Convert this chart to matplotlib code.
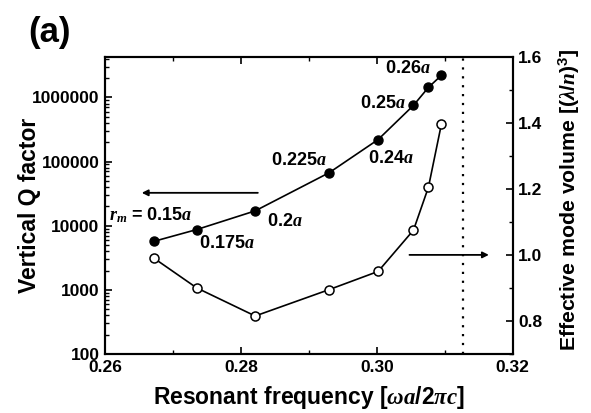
import matplotlib
matplotlib.use('Agg')
import matplotlib.pyplot as plt
from matplotlib.ticker import FixedLocator, FuncFormatter, LogLocator, MultipleLocator, NullFormatter

plt.rcParams['font.family'] = ['Liberation Sans', 'DejaVu Sans']
plt.rcParams['font.weight'] = 'bold'
plt.rcParams['axes.labelweight'] = 'bold'
plt.rcParams['mathtext.fontset'] = 'custom'
plt.rcParams['mathtext.rm'] = 'Liberation Sans:bold'
plt.rcParams['mathtext.it'] = 'Liberation Serif:italic:bold'
plt.rcParams['mathtext.bf'] = 'Liberation Sans:bold'

# resonant frequency of each hole radius r_m  [wa/2pic]
freq = [0.2672, 0.2735, 0.2821, 0.2930, 0.3002, 0.3054, 0.3076, 0.3095]
# vertical Q factor (filled) and effective mode volume (open)
q_vertical = [5700, 8700, 17000, 67000, 220000, 750000, 1430000, 2200000]
mode_volume = [0.99, 0.90, 0.815, 0.895, 0.95, 1.075, 1.205, 1.395]
rm_labels = ['$r_m$ = 0.15$a$', '0.175$a$', '0.2$a$', '0.225$a$',
             '0.24$a$', '0.25$a$', '', '0.26$a$']
light_line = 0.3127

fig = plt.figure(figsize=(5.91, 4.13), dpi=100)
ax = fig.add_axes([0.1777, 0.1429, 0.6898, 0.7198])
ax2 = ax.twinx()

ax.plot(freq, q_vertical, '-', color='black', lw=1.2,
        marker='o', ms=6.5, mfc='black', mec='black', zorder=3)
ax2.plot(freq, mode_volume, '-', color='black', lw=1.2,
         marker='o', ms=6.5, mfc='white', mec='black', mew=1.1, zorder=3)
ax2.axvline(light_line, color='black', ls=(0, (1, 3)), lw=1.6)

ax.set_xlim(0.26, 0.32)
ax.set_yscale('log')
ax.set_ylim(100, 4.3e6)
ax2.set_ylim(0.7, 1.6)

ax.xaxis.set_major_locator(FixedLocator([0.26, 0.28, 0.30, 0.32]))
ax.xaxis.set_minor_locator(MultipleLocator(0.01))
ax.xaxis.set_major_formatter(FuncFormatter(lambda v, p: '%.2f' % v))
ax.yaxis.set_major_locator(FixedLocator([100, 1000, 10000, 100000, 1000000]))
ax.yaxis.set_minor_locator(LogLocator(base=10, subs=range(2, 10)))
ax.yaxis.set_minor_formatter(NullFormatter())
ax.yaxis.set_major_formatter(FuncFormatter(lambda v, p: '%d' % v))
ax2.yaxis.set_major_locator(FixedLocator([0.8, 1.0, 1.2, 1.4, 1.6]))
ax2.yaxis.set_minor_locator(MultipleLocator(0.1))
ax2.yaxis.set_major_formatter(FuncFormatter(lambda v, p: '%.1f' % v))

ax.tick_params(axis='x', which='both', direction='in', top=True)
ax.tick_params(axis='y', which='both', direction='in')
ax2.tick_params(axis='y', which='both', direction='in')
for a in (ax, ax2):
    a.tick_params(which='major', length=5, width=1.2, labelsize=12.5, pad=4)
    a.tick_params(which='minor', length=3, width=1.0)
    for s in a.spines.values():
        s.set_linewidth(1.5)

ax.set_xlabel(r'Resonant frequency [$\omega a/2\pi c$]', fontsize=16.5, va='center')
ax.set_ylabel('Vertical Q factor', fontsize=16.5, va='center')
ax2.set_ylabel(r'Effective mode volume [($\lambda/n$)$^3$]', fontsize=15.3, va='center')
ax.xaxis.set_label_coords(0.5, -0.145)
ax.yaxis.set_label_coords(-0.185, 0.5)
ax2.yaxis.set_label_coords(1.14, 0.52)

# r_m labels next to the Q-factor points
offsets = [(-2, 19), (22, -10), (21, -8), (-22, 9), (9, -14), (-22, 1), (0, 0), (-24, 5)]
for f, q, lab, off in zip(freq, q_vertical, rm_labels, offsets):
    if lab:
        ax.annotate(lab, xy=(f, q), xytext=off, textcoords='offset points',
                    ha='center', va='center', fontsize=13, fontweight='bold')

# arrows pointing to each curve's axis
ax.annotate('', xy=(0.2650, 32500), xytext=(0.2829, 32500),
            arrowprops=dict(arrowstyle='-|>', color='black', lw=1.3, mutation_scale=9))
ax2.annotate('', xy=(0.3169, 1.0), xytext=(0.3044, 1.0),
             arrowprops=dict(arrowstyle='-|>', color='black', lw=1.3, mutation_scale=9))

fig.text(0.047, 0.898, '(a)', fontsize=25, fontweight='bold')

fig.savefig('out.png', dpi=100)
